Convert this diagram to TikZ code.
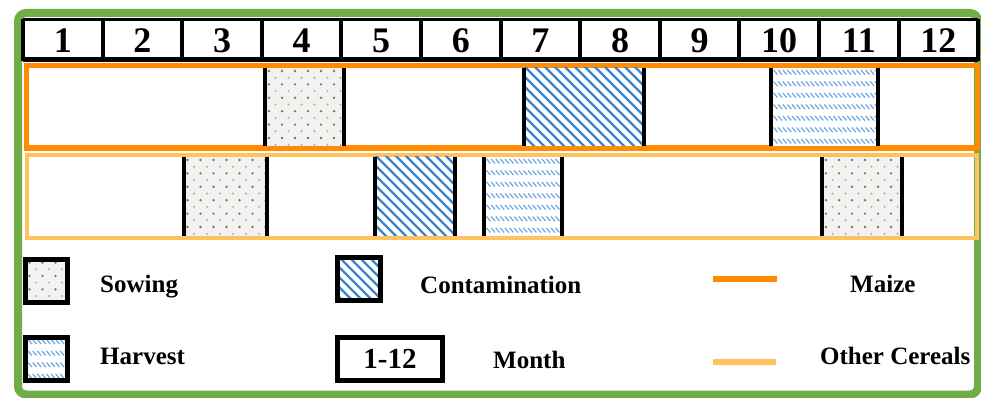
\documentclass[tikz,border=0pt]{standalone}
\usepackage{fontspec}
\setmainfont{Liberation Serif}
\definecolor{framegreen}{HTML}{70AD47}
\definecolor{maizeor}{HTML}{FF8C00}
\definecolor{cerealor}{HTML}{FFC25E}
\definecolor{stripeblue}{HTML}{3A84D0}
\definecolor{harvblue}{HTML}{6FA8DE}
\definecolor{dotdark}{HTML}{8C7238}
\definecolor{dotlight}{HTML}{BFAB7A}
\definecolor{sowbg}{HTML}{F2F2F2}
\newcommand{\sowpat}[4]{%
  \begin{scope}
    \clip (#1,#2) rectangle (#3,#4);
    \fill[sowbg] (#1,#2) rectangle (#3,#4);
    \foreach \r in {0,...,12} {
      \foreach \c in {0,...,10} {
        \pgfmathsetmacro{\dx}{#1+4+\c*13+mod(\r,2)*6.5}
        \pgfmathsetmacro{\dy}{#2+3+\r*6.7}
        \ifodd\r
          \fill[dotlight] (\dx,\dy) circle (1.1pt);
        \else
          \fill[dotdark] (\dx,\dy) circle (1.3pt);
        \fi
      }
    }
  \end{scope}}
\newcommand{\contpat}[4]{%
  \begin{scope}
    \clip (#1,#2) rectangle (#3,#4);
    \fill[white] (#1,#2) rectangle (#3,#4);
    \foreach \s in {-100,-90,...,130} {
      \draw[stripeblue,line width=2.3pt] ({#1+\s},{#2-2}) -- ++(100,100);
    }
  \end{scope}}
\newcommand{\harvpat}[4]{%
  \begin{scope}
    \clip (#1,#2) rectangle (#3,#4);
    \fill[white] (#1,#2) rectangle (#3,#4);
    \foreach \r in {0,...,8} {
      \foreach \c in {0,...,30} {
        \draw[harvblue,line width=1.2pt] ({#1-2+\c*4.6},{#2+2+\r*11.5}) -- ++(3.8,4.5);
      }
    }
  \end{scope}}
\tikzset{
  monthnum/.style={font=\fontsize{36}{36}\selectfont\bfseries, inner sep=0pt},
  legtext/.style={font=\fontsize{25}{25}\selectfont\bfseries, inner sep=0pt, anchor=west},
  blackedge/.style={line width=4pt, black},
  legbox/.style={draw=black, line width=5pt}
}
\begin{document}
\begin{tikzpicture}[x=1pt,y=-1pt]
\useasboundingbox (0,0) rectangle (981,398);
\fill[white] (0,0) rectangle (981,398);
% green frame
\draw[framegreen,line width=8pt,rounded corners=8pt] (18,13) rectangle (978,394.5);
% header
\fill[white] (23,19) rectangle (978,60);
\foreach \i in {0,...,12} {
  \pgfmathsetmacro{\xx}{23+\i*79.6}
  \draw[black,line width=4pt] (\xx,19) -- (\xx,61);
}
\draw[black,line width=3pt] (23,19.5) -- (978,19.5);
\draw[black,line width=5pt] (23,59.5) -- (978,59.5);
\foreach \i in {1,...,12} {
  \node[monthnum] (m\i) at ({23+(\i-0.5)*79.6},41) {\i};
}
% maize row
\draw[maizeor,line width=5pt] (26,65.5) rectangle (977,148.5);
\draw[maizeor,line width=6pt] (24,148.5) -- (979,148.5);
\sowpat{265}{68}{343}{146}
\draw[blackedge] (265,68) -- (265,146);
\draw[blackedge] (343.5,68) -- (343.5,146);
\contpat{524}{68}{643}{146}
\draw[blackedge] (524,68) -- (524,146);
\draw[blackedge] (643.5,68) -- (643.5,146);
\harvpat{771}{68}{878}{146}
\draw[blackedge] (771,68) -- (771,146);
\draw[blackedge] (878,68) -- (878,146);
% other cereals row
\draw[cerealor,line width=4pt] (27,155) rectangle (977,237.5);
\sowpat{183.5}{157}{266.5}{235.5}
\draw[blackedge] (183.5,157) -- (183.5,235.5);
\draw[blackedge] (266.5,157) -- (266.5,235.5);
\contpat{375}{157}{455}{235.5}
\draw[blackedge] (375,157) -- (375,235.5);
\draw[blackedge] (455,157) -- (455,235.5);
\harvpat{484}{157}{562}{235.5}
\draw[blackedge] (484,157) -- (484,235.5);
\draw[blackedge] (562,157) -- (562,235.5);
\sowpat{822}{157}{902}{235.5}
\draw[blackedge] (822,157) -- (822,235.5);
\draw[blackedge] (902,157) -- (902,235.5);
% legend
\sowpat{25.5}{259.5}{67.5}{302.5}
\draw[legbox] (25.5,259.5) rectangle (67.5,302.5);
\node[legtext] (lsow) at (100,287) {Sowing};
\harvpat{25.5}{337.5}{67.5}{380.5}
\draw[legbox] (25.5,337.5) rectangle (67.5,380.5);
\node[legtext] (lharv) at (100,356) {Harvest};
\contpat{337.5}{257.5}{380.5}{300.5}
\draw[legbox] (337.5,257.5) rectangle (380.5,300.5);
\node[legtext] (lcont) at (420,285) {Contamination};
\node[legbox, minimum width=105pt, minimum height=43pt, inner sep=0pt,
      font=\fontsize{29}{29}\selectfont\bfseries] (lmonthbox) at (390,359) {1-12};
\node[legtext] (lmonth) at (493,360) {Month};
\draw[maizeor,line width=6pt] (713,279) -- (777,279);
\node[legtext] (lmaize) at (850,284) {Maize};
\draw[cerealor,line width=6pt] (713,362) -- (776,362);
\node[legtext] (lother) at (820,356) {Other Cereals};
\end{tikzpicture}
\end{document}
